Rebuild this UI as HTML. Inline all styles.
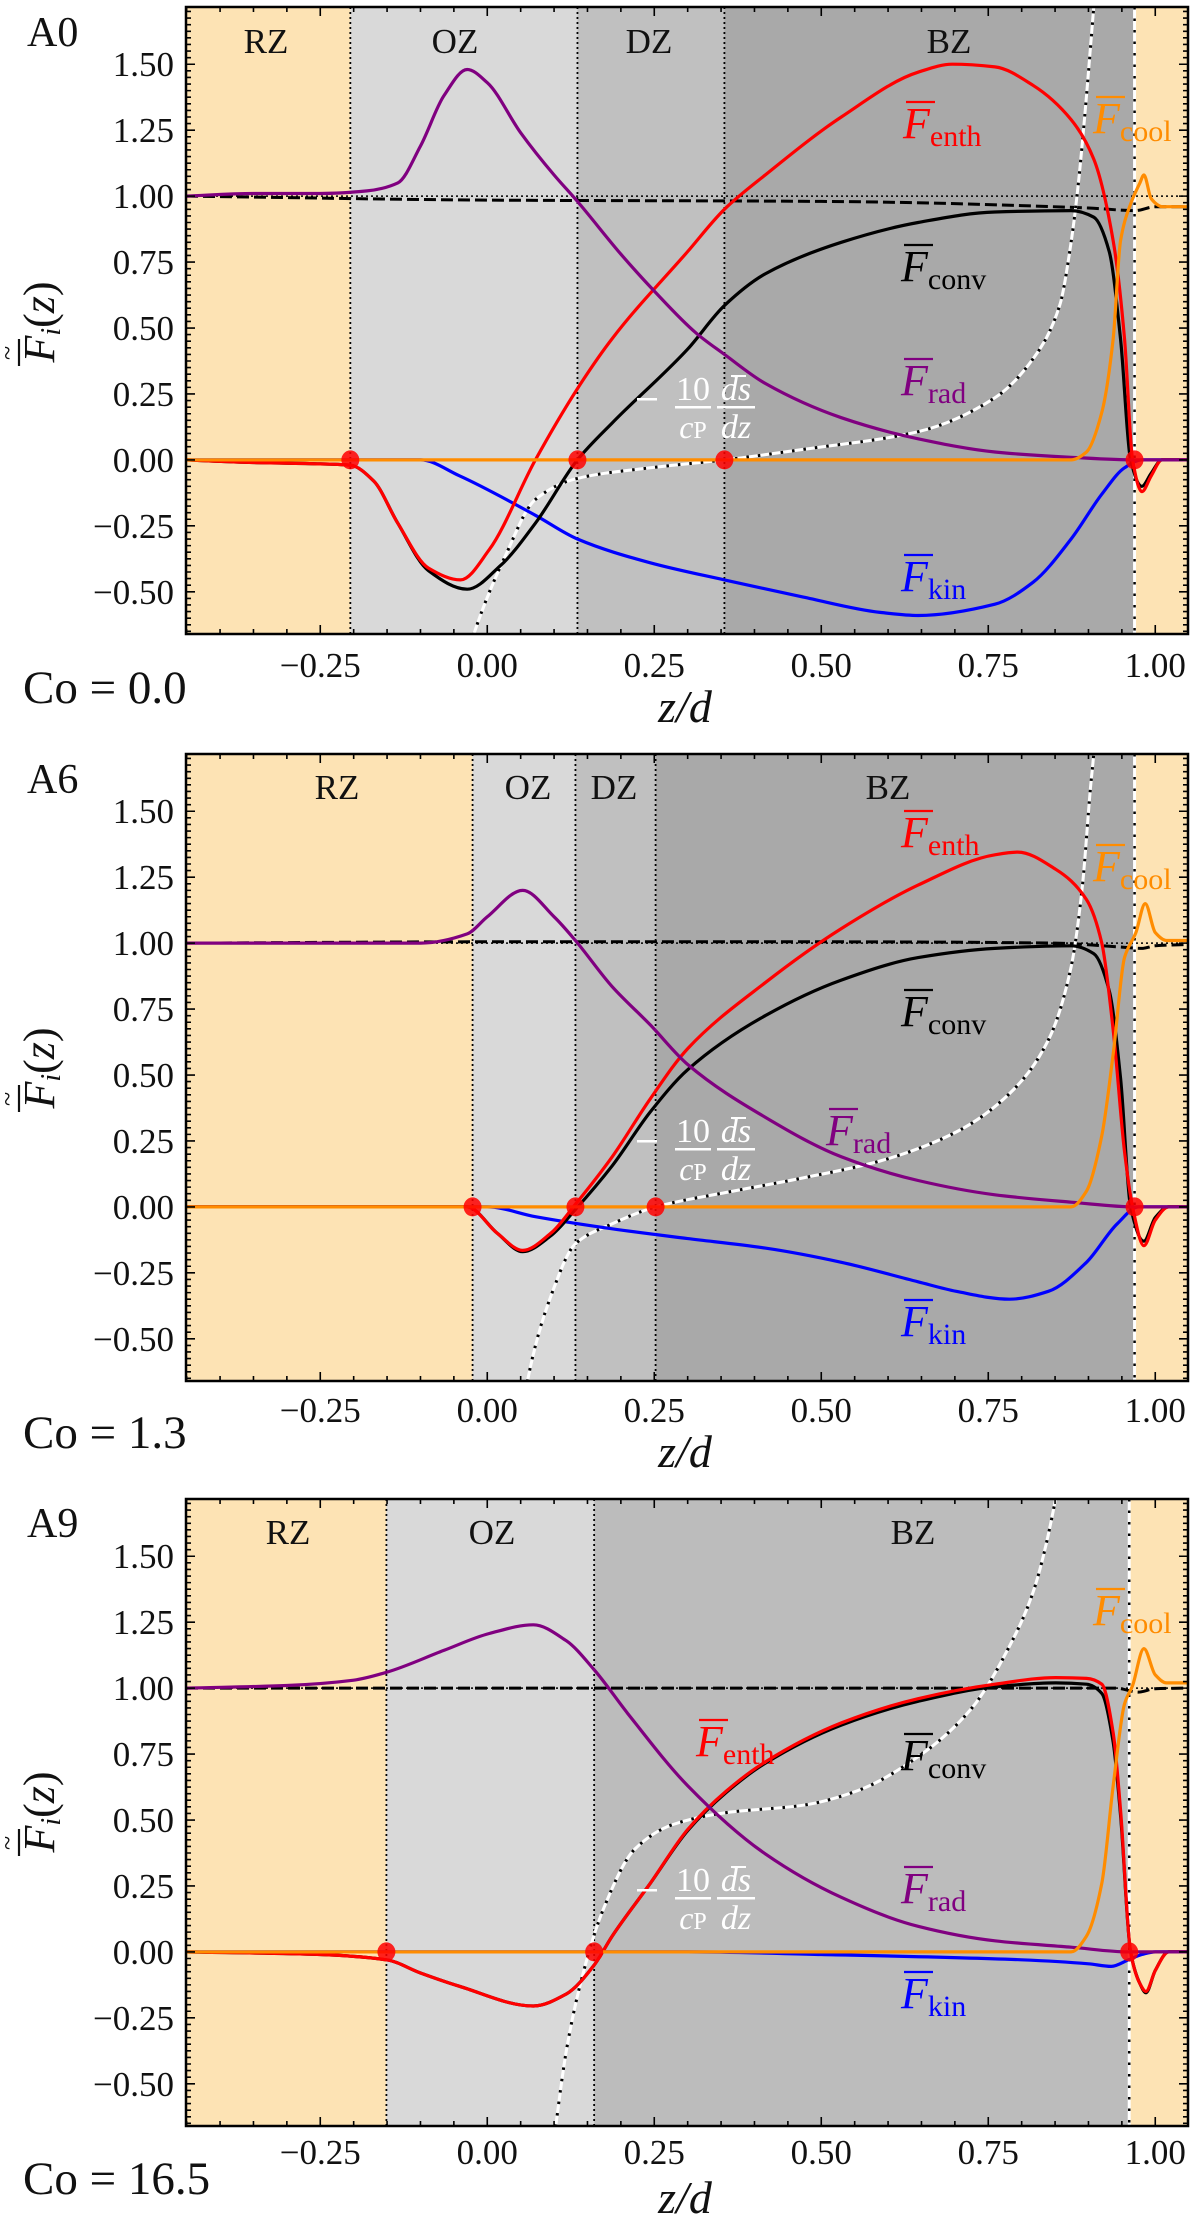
<!DOCTYPE html>
<html><head><meta charset="utf-8"><style>
html,body{margin:0;padding:0;background:#fff;}
svg{display:block;}
text{font-family:"Liberation Serif","DejaVu Serif",serif;}
</style></head><body>
<svg id="fig" xmlns="http://www.w3.org/2000/svg" width="1200" height="2232" viewBox="0 0 1200 2232"></svg>
<script>
// ---------- data ----------
const panelNames = ["A0","A6","A9"];
const coValues = ["0.0","1.3","16.5"];
const xTicks = [-0.25,0,0.25,0.5,0.75,1.0];
const xTickLabels = ["\u22120.25","0.00","0.25","0.50","0.75","1.00"];
const yTicks = [-0.5,-0.25,0,0.25,0.5,0.75,1.0,1.25,1.5];
const yTickLabels = ["\u22120.50","\u22120.25","0.00","0.25","0.50","0.75","1.00","1.25","1.50"];

// zone boundaries (z/d)
const A0_bounds = [-0.205,0.135,0.355,0.969];
const A6_bounds = [-0.022,0.132,0.252,0.969];
const A9_bounds = [-0.151,0.160,0.961];
const A0_zones = ["RZ","OZ","DZ","BZ"];
const A6_zones = ["RZ","OZ","DZ","BZ"];
const A9_zones = ["RZ","OZ","BZ"];

// ---- A0 ----
const A0_rad = [[-0.451,1.0],[-0.35,1.01],[-0.25,1.01],[-0.18,1.02],[-0.134,1.05],[-0.1,1.19],[-0.065,1.38],[-0.03,1.48],[0.0,1.43],[0.05,1.24],[0.1,1.08],[0.135,0.98],[0.2,0.78],[0.25,0.64],[0.313,0.48],[0.355,0.40],[0.416,0.29],[0.53,0.16],[0.645,0.08],[0.76,0.03],[0.874,0.01],[0.97,0.0],[1.049,0.0]];
const A0_enth = [[-0.451,0.0],[-0.35,-0.01],[-0.25,-0.015],[-0.205,-0.02],[-0.17,-0.08],[-0.134,-0.24],[-0.088,-0.41],[-0.04,-0.455],[0.003,-0.34],[0.072,0.0],[0.135,0.27],[0.187,0.46],[0.3,0.79],[0.355,0.95],[0.416,1.08],[0.53,1.30],[0.645,1.47],[0.696,1.50],[0.76,1.49],[0.817,1.42],[0.874,1.29],[0.908,1.14],[0.937,0.83],[0.954,0.46],[0.966,0.0],[0.98,-0.12],[0.994,-0.06],[1.01,0.0],[1.049,0.0]];
const A0_conv = [[-0.451,0.0],[-0.35,-0.01],[-0.25,-0.015],[-0.205,-0.02],[-0.17,-0.08],[-0.134,-0.24],[-0.088,-0.42],[-0.03,-0.49],[0.02,-0.40],[0.072,-0.24],[0.135,0.0],[0.187,0.14],[0.3,0.42],[0.355,0.585],[0.416,0.705],[0.53,0.825],[0.645,0.90],[0.76,0.94],[0.874,0.945],[0.908,0.92],[0.931,0.79],[0.948,0.46],[0.963,0.0],[0.98,-0.1],[0.994,-0.05],[1.01,0.0],[1.049,0.0]];
const A0_kin = [[-0.451,0.0],[-0.1,0.0],[-0.042,-0.06],[0.072,-0.21],[0.135,-0.30],[0.244,-0.39],[0.355,-0.455],[0.473,-0.52],[0.588,-0.578],[0.645,-0.59],[0.76,-0.547],[0.817,-0.464],[0.874,-0.30],[0.92,-0.13],[0.954,-0.03],[0.98,0.0],[1.049,0.0]];
const A0_cool = [[-0.451,0.0],[0.874,0.0],[0.897,0.03],[0.92,0.18],[0.937,0.46],[0.948,0.83],[0.963,0.97],[0.977,1.05],[0.983,1.08],[0.994,0.99],[1.011,0.96],[1.049,0.96]];
const A0_total = [[-0.451,1.0],[0.0,0.985],[0.5,0.98],[0.9,0.955],[0.97,0.945],[1.0,0.96],[1.049,0.96]];
const A0_ds = [[-0.03,-0.75],[-0.02,-0.66],[0.026,-0.37],[0.072,-0.15],[0.135,-0.07],[0.244,-0.03],[0.355,0.0],[0.473,0.04],[0.645,0.107],[0.76,0.236],[0.817,0.383],[0.857,0.586],[0.874,0.825],[0.885,1.05],[0.897,1.38],[0.908,1.72],[0.915,1.95]];

// ---- A6 ----
const A6_rad = [[-0.451,1.0],[-0.1,1.0],[-0.03,1.035],[0.0,1.1],[0.053,1.2],[0.1,1.1],[0.132,1.01],[0.187,0.835],[0.244,0.69],[0.3,0.54],[0.416,0.34],[0.53,0.19],[0.645,0.10],[0.76,0.046],[0.874,0.018],[0.97,0.0],[1.049,0.0]];
const A6_enth = [[-0.451,0.0],[-0.03,0.0],[0.015,-0.10],[0.053,-0.165],[0.095,-0.10],[0.132,0.01],[0.187,0.19],[0.244,0.41],[0.3,0.60],[0.416,0.85],[0.53,1.055],[0.645,1.22],[0.76,1.335],[0.794,1.345],[0.851,1.28],[0.897,1.165],[0.92,1.0],[0.937,0.67],[0.954,0.21],[0.966,0.0],[0.983,-0.147],[1.0,-0.05],[1.02,0.0],[1.049,0.0]];
const A6_conv = [[-0.451,0.0],[-0.03,0.0],[0.015,-0.10],[0.053,-0.17],[0.095,-0.11],[0.132,-0.01],[0.187,0.156],[0.244,0.36],[0.3,0.52],[0.416,0.725],[0.53,0.86],[0.645,0.945],[0.76,0.98],[0.874,0.99],[0.908,0.96],[0.931,0.82],[0.948,0.49],[0.963,0.0],[0.983,-0.13],[1.0,-0.04],[1.02,0.0],[1.049,0.0]];
const A6_kin = [[-0.451,0.0],[0.0,0.0],[0.072,-0.037],[0.187,-0.083],[0.3,-0.12],[0.416,-0.156],[0.53,-0.21],[0.645,-0.284],[0.702,-0.32],[0.782,-0.35],[0.84,-0.32],[0.897,-0.21],[0.943,-0.064],[0.975,0.0],[1.049,0.0]];
const A6_cool = [[-0.451,0.0],[0.874,0.0],[0.897,0.06],[0.92,0.27],[0.937,0.58],[0.954,0.945],[0.971,1.04],[0.985,1.15],[1.0,1.04],[1.017,1.01],[1.049,1.01]];
const A6_total = [[-0.451,1.0],[0.0,1.005],[0.5,1.005],[0.85,1.0],[0.95,0.985],[0.98,0.98],[1.0,0.99],[1.049,0.995]];
const A6_ds = [[0.055,-0.75],[0.061,-0.65],[0.095,-0.34],[0.132,-0.14],[0.187,-0.064],[0.252,0.0],[0.358,0.055],[0.473,0.11],[0.588,0.174],[0.702,0.284],[0.782,0.43],[0.84,0.633],[0.874,0.91],[0.891,1.22],[0.903,1.59],[0.908,1.72],[0.914,1.95]];

// ---- A9 ----
const A9_rad = [[-0.451,1.0],[-0.3,1.01],[-0.2,1.03],[-0.151,1.06],[-0.065,1.143],[0.003,1.207],[0.069,1.24],[0.118,1.18],[0.16,1.07],[0.21,0.905],[0.3,0.63],[0.416,0.372],[0.53,0.207],[0.645,0.097],[0.76,0.042],[0.874,0.018],[0.96,0.0],[1.049,0.0]];
const A9_enth = [[-0.451,0.0],[-0.25,-0.01],[-0.151,-0.03],[-0.1,-0.08],[-0.042,-0.13],[0.069,-0.205],[0.118,-0.16],[0.16,-0.05],[0.187,0.06],[0.244,0.26],[0.3,0.464],[0.358,0.61],[0.416,0.72],[0.53,0.868],[0.645,0.96],[0.76,1.015],[0.851,1.04],[0.897,1.037],[0.92,1.015],[0.937,0.83],[0.948,0.54],[0.963,0.0],[0.977,-0.12],[0.986,-0.15],[1.0,-0.07],[1.02,0.0],[1.049,0.0]];
const A9_conv = [[-0.451,0.0],[-0.25,-0.01],[-0.151,-0.03],[-0.1,-0.08],[-0.042,-0.13],[0.069,-0.205],[0.118,-0.16],[0.16,-0.05],[0.187,0.06],[0.244,0.26],[0.3,0.46],[0.358,0.605],[0.416,0.715],[0.53,0.86],[0.645,0.95],[0.76,1.005],[0.851,1.02],[0.897,1.015],[0.92,0.98],[0.937,0.795],[0.948,0.52],[0.963,0.0],[0.977,-0.12],[0.986,-0.155],[1.0,-0.07],[1.02,0.0],[1.049,0.0]];
const A9_kin = [[-0.451,0.0],[0.3,0.0],[0.5,-0.01],[0.8,-0.03],[0.9,-0.045],[0.934,-0.055],[0.96,-0.03],[0.98,-0.01],[1.0,0.0],[1.049,0.0]];
const A9_cool = [[-0.451,0.0],[0.874,0.0],[0.897,0.06],[0.92,0.26],[0.937,0.63],[0.954,0.94],[0.966,1.01],[0.983,1.15],[1.0,1.05],[1.017,1.02],[1.049,1.02]];
const A9_total = [[-0.451,1.0],[0.5,1.0],[0.94,1.0],[0.975,0.985],[1.0,0.998],[1.049,1.0]];
const A9_ds = [[0.098,-0.75],[0.103,-0.65],[0.118,-0.38],[0.141,-0.105],[0.175,0.17],[0.221,0.39],[0.278,0.483],[0.358,0.528],[0.473,0.556],[0.553,0.61],[0.645,0.74],[0.725,0.923],[0.782,1.16],[0.817,1.363],[0.851,1.72],[0.865,1.95]];

const panelBounds = [A0_bounds,A6_bounds,A9_bounds];
const panelZones = [A0_zones,A6_zones,A9_zones];
const panelSeries = [
 {rad:A0_rad,enth:A0_enth,conv:A0_conv,kin:A0_kin,cool:A0_cool,total:A0_total,ds:A0_ds},
 {rad:A6_rad,enth:A6_enth,conv:A6_conv,kin:A6_kin,cool:A6_cool,total:A6_total,ds:A6_ds},
 {rad:A9_rad,enth:A9_enth,conv:A9_conv,kin:A9_kin,cool:A9_cool,total:A9_total,ds:A9_ds}
];

// ---------- layout (not data) ----------
const NS="http://www.w3.org/2000/svg";
const svg=document.getElementById('fig');
const X0=186,X1=1188,ZMIN=-0.451,ZMAX=1.049,VMIN=-0.66,VMAX=1.717,PH=627;
const tops=[7,754,1499];
const zoneColorsSets=[["#fde3b4","#d9d9d9","#c0c0c0","#a9a9a9"],["#fde3b4","#d9d9d9","#c0c0c0","#a9a9a9"],["#fde3b4","#d9d9d9","#bcbcbc"]];
const zoneLabelY=[53,799,1544];
const zoneLabelX=[[266,455,649,949],[337,528,614,888],[288,492,913]];
const labelPos=[
 {enth:[903,138],cool:[1093,133],conv:[901,281],rad:[901,395],kin:[901,591],ds:[637,400]},
 {enth:[901,847],cool:[1093,881],conv:[901,1026],rad:[826,1145],kin:[901,1336],ds:[637,1142]},
 {enth:[696,1756],cool:[1093,1625],conv:[901,1770],rad:[901,1903],kin:[901,2008],ds:[637,1891]}
];
const nameY=[46,793,1537], coY=[703,1448,2194], xlabY=[722,1467,2213], xtickY=[677,1422,2164], ylabY=[322,1068,1812];

function el(tag,attrs,parent){const e=document.createElementNS(NS,tag);for(const k in attrs)e.setAttribute(k,attrs[k]);(parent||svg).appendChild(e);return e;}
function sx(z){return X0+(z-ZMIN)/(ZMAX-ZMIN)*(X1-X0);}
function makeSy(top){return v=>top+(VMAX-v)/(VMAX-VMIN)*PH;}
// monotone cubic (Fritsch-Carlson) in pixel space
function pathFrom(pts){
  const n=pts.length; if(n<2)return '';
  const dx=[],m=[],t=new Array(n);
  for(let i=0;i<n-1;i++){dx[i]=pts[i+1][0]-pts[i][0];m[i]=(pts[i+1][1]-pts[i][1])/dx[i];}
  t[0]=m[0];t[n-1]=m[n-2];
  for(let i=1;i<n-1;i++){
    if(m[i-1]*m[i]<=0)t[i]=0;
    else{const w1=2*dx[i]+dx[i-1],w2=dx[i]+2*dx[i-1];t[i]=(w1+w2)/(w1/m[i-1]+w2/m[i]);}
  }
  let d='M'+pts[0][0].toFixed(1)+','+pts[0][1].toFixed(1);
  for(let i=0;i<n-1;i++){
    const h=dx[i]/3;
    d+=' C'+(pts[i][0]+h).toFixed(1)+','+(pts[i][1]+t[i]*h).toFixed(1)+' '+(pts[i+1][0]-h).toFixed(1)+','+(pts[i+1][1]-t[i+1]*h).toFixed(1)+' '+pts[i+1][0].toFixed(1)+','+pts[i+1][1].toFixed(1);
  }
  return d;
}
function fluxLabel(g,x,y,sub,color){
  const t=el('text',{x:x,y:y,fill:color,'font-size':44},g);
  const f=el('tspan',{'font-style':'italic'},t);f.textContent='F';
  const s=el('tspan',{'font-size':30,dy:8},t);s.textContent=sub;
  el('line',{x1:x+3,x2:x+32,y1:y-36,y2:y-36,stroke:color,'stroke-width':2.2},g);
}

for(let p=0;p<3;p++){
  const top=tops[p],sy=makeSy(top),bot=top+PH;
  const g=el('g',{});
  
  
  const clipId='clip'+p;
  const cp=el('clipPath',{id:clipId},g);el('rect',{x:X0,y:top,width:X1-X0,height:PH},cp);
  const b=[ZMIN].concat(panelBounds[p]);
  const cols=zoneColorsSets[p];
  for(let i=0;i<b.length;i++){
    const z0=b[i],z1=(i+1<b.length)?b[i+1]:ZMAX;
    const col=(i===b.length-1)?"#fde3b4":cols[i];
    const r=el('rect',{x:sx(z0),y:top,width:sx(z1)-sx(z0),height:PH,fill:col},g);
    
    
  }
  panelZones[p].forEach((zn,i)=>{
    const t=el('text',{x:zoneLabelX[p][i],y:zoneLabelY[p],'font-size':35,'text-anchor':'middle',fill:'#111'},g);
    t.textContent=zn;
    
    
  });
  const cg=el('g',{'clip-path':'url(#'+clipId+')'},g);
  panelBounds[p].forEach((zb,i)=>{
    const last=i===panelBounds[p].length-1;
    if(last){
      const l=el('line',{x1:sx(zb),x2:sx(zb),y1:top,y2:bot,stroke:'#fff','stroke-width':3},cg);
      
      
      el('line',{x1:sx(zb),x2:sx(zb),y1:top,y2:bot,stroke:'#000','stroke-width':2.5,'stroke-dasharray':'2.5 9'},cg);
    } else {
      const l=el('line',{x1:sx(zb),x2:sx(zb),y1:top,y2:bot,stroke:'#000','stroke-width':1.8,'stroke-dasharray':'2 3'},cg);
      
      
    }
  });
  el('line',{x1:X0,x2:X1,y1:sy(1),y2:sy(1),stroke:'#000','stroke-width':1.6,'stroke-dasharray':'2 3'},cg);
  const S=panelSeries[p];
  const toPts=arr=>arr.map(q=>[sx(q[0]),sy(q[1])]);
  const tot=el('path',{d:pathFrom(toPts(S.total)),fill:'none',stroke:'#000','stroke-width':3,'stroke-dasharray':'12 5'},cg);
  
  
  const dsd=pathFrom(toPts(S.ds));
  const ds1=el('path',{d:dsd,fill:'none',stroke:'#fff','stroke-width':3},cg);
  
  
  el('path',{d:dsd,fill:'none',stroke:'#000','stroke-width':3,'stroke-dasharray':'2.5 9'},cg);
  const order=[['kin','#0000ff'],['conv','#000000'],['enth','#ff0000'],['rad','#800080'],['cool','#ff8c00']];
  order.forEach(([k,c])=>{
    const pth=el('path',{d:pathFrom(toPts(S[k])),fill:'none',stroke:c,'stroke-width':3.2,'stroke-linejoin':'round'},cg);
    
    
  });
  panelBounds[p].forEach(zb=>{
    const m=el('ellipse',{cx:sx(zb),cy:sy(0),rx:9,ry:9.5,fill:'#ff0000','fill-opacity':0.85},cg);
    
    
  });
  const fr=el('rect',{x:X0,y:top,width:X1-X0,height:PH,fill:'none',stroke:'#000','stroke-width':2.5},g);
  
  
  let td='';
  for(let k=-9;k<=21;k++){const z=k*0.05;if(z<ZMIN||z>ZMAX)continue;const x=sx(z);const major=Math.abs(z*4-Math.round(z*4))<1e-6;const L=major?9:5;td+=`M${x},${bot}v${-L}M${x},${top}v${L}`;}
  for(let k=-26;k<=68;k++){const v=k*0.025;if(v<VMIN||v>VMAX)continue;const y=sy(v);const major=k%10===0;const L=major?9:5;td+=`M${X0},${y}h${L}M${X1},${y}h${-L}`;}
  el('path',{d:td,stroke:'#000','stroke-width':1.6,fill:'none'},g);
  xTicks.forEach((z,i)=>{
    const t=el('text',{x:sx(z),y:xtickY[p],'font-size':35,'text-anchor':'middle',fill:'#111'},g);
    t.textContent=xTickLabels[i];
    
    
  });
  yTicks.forEach((v,i)=>{
    const t=el('text',{x:174,y:sy(v)+12,'font-size':35,'text-anchor':'end',fill:'#111'},g);
    t.textContent=yTickLabels[i];
    
    
  });
  const LP=labelPos[p];
  const lgE=el('g',{},g);
  fluxLabel(lgE,LP.enth[0],LP.enth[1],'enth','#ff0000');
  const lgC=el('g',{},g);
  fluxLabel(lgC,LP.cool[0],LP.cool[1],'cool','#ff8c00');
  const lgV=el('g',{},g);
  fluxLabel(lgV,LP.conv[0],LP.conv[1],'conv','#000000');
  const lgR=el('g',{},g);
  fluxLabel(lgR,LP.rad[0],LP.rad[1],'rad','#800080');
  const lgK=el('g',{},g);
  fluxLabel(lgK,LP.kin[0],LP.kin[1],'kin','#0000ff');
  const eg=el('g',{fill:'#fff'},g);
  
  
  const ex=LP.ds[0],ey=LP.ds[1];
  el('rect',{x:ex,y:ey-2,width:20,height:2.5},eg);
  let t1=el('text',{x:ex+56,y:ey,'font-size':34,'text-anchor':'middle'},eg);t1.textContent='10';
  el('rect',{x:ex+38,y:ey+6,width:36,height:2.5},eg);
  let t2=el('text',{x:ex+56,y:ey+38,'font-size':32,'text-anchor':'middle','font-style':'italic'},eg);t2.textContent='c';
  let t2b=el('tspan',{'font-style':'normal','font-size':24},t2);t2b.textContent='P';
  let t3=el('text',{x:ex+99,y:ey,'font-size':34,'text-anchor':'middle','font-style':'italic'},eg);t3.textContent='ds';
  el('rect',{x:ex+94,y:ey-25,width:15,height:2},eg);
  el('rect',{x:ex+80,y:ey+6,width:38,height:2.5},eg);
  let t4=el('text',{x:ex+99,y:ey+38,'font-size':34,'text-anchor':'middle','font-style':'italic'},eg);t4.textContent='dz';
  const nm=el('text',{x:27,y:nameY[p],'font-size':42,fill:'#111'},svg);nm.textContent=panelNames[p];
  
  
  const co=el('text',{x:23,y:coY[p],'font-size':47,fill:'#111'},svg);co.textContent='Co = '+coValues[p];
  
  
  const xl=el('text',{x:685,y:xlabY[p],'font-size':46,'text-anchor':'middle','font-style':'italic',fill:'#111'},svg);xl.textContent='z/d';
  
  
  const yl=el('g',{transform:`translate(54,${ylabY[p]}) rotate(-90)`},svg);
  
  
  const yt=el('text',{x:0,y:0,'font-size':44,'text-anchor':'middle',fill:'#111'},yl);
  const ya=el('tspan',{'font-style':'italic'},yt);ya.textContent='F';
  const yb=el('tspan',{'font-style':'italic','font-size':28,dy:6},yt);yb.textContent='i';
  const yc=el('tspan',{dy:-6},yt);yc.textContent='(';
  const yd=el('tspan',{'font-style':'italic'},yt);yd.textContent='z';
  const ye=el('tspan',{},yt);ye.textContent=')';
  el('line',{x1:-44,x2:-17,y1:-35,y2:-35,stroke:'#111','stroke-width':2.2},yl);
  const tl=el('text',{x:-31,y:-38,'font-size':26,'text-anchor':'middle',fill:'#111'},yl);tl.textContent='~';
}
</script>
</body></html>
